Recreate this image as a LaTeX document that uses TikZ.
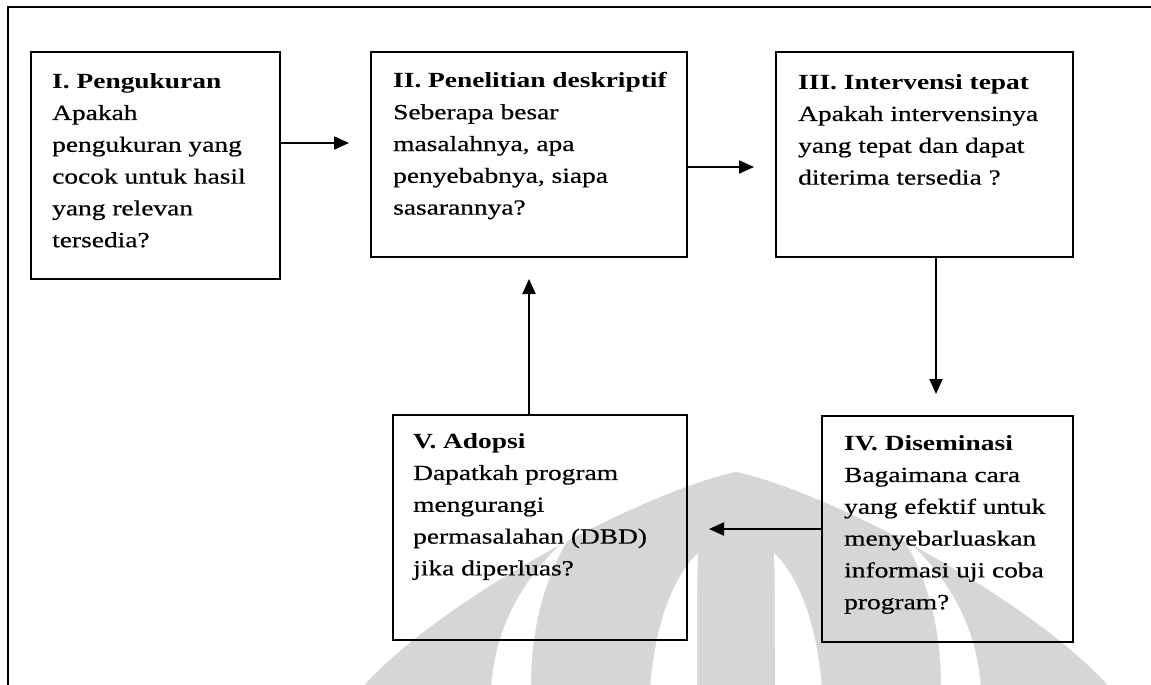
\documentclass[tikz,border=0pt]{standalone}
\usepackage{fontspec}
\setmainfont{Liberation Serif}[FakeStretch=1.27, UprightFeatures={FakeBold=0.6}]
\usetikzlibrary{arrows.meta}

% one half of the faint background emblem (mirrored for the other half)
\newcommand\emblemside{%
  \fill[white] (491,690) .. controls (495,620) and (530,570) .. (571,535)
               .. controls (545,575) and (530,630) .. (531,690) -- cycle;
  \fill[white] (650,690) .. controls (655,620) and (675,575) .. (698,553)
               .. controls (697,580) and (697,620) .. (697,690) -- cycle;
}

\begin{document}
\begin{tikzpicture}[x=1pt, y=-1pt,
  box/.style={draw, line width=2.4pt, outer sep=0pt, inner sep=0pt,
              anchor=north west, minimum width=#1},
  txt/.style={anchor=north west, inner sep=0pt, align=left,
              font=\fontsize{21.6}{31.8}\selectfont},
  arr/.style={line width=2pt, -{Triangle[length=15pt,width=13pt]},
              shorten >=22pt},
  emblem/.style={fill=black!16}]

\useasboundingbox (0,0) rectangle (1151,685);

% background emblem
\begin{scope}
  \clip (0,0) rectangle (1151,685);
  \fill[emblem] (352,700) .. controls (420,610) and (640,492) .. (736,472)
               .. controls (832,492) and (1052,610) .. (1120,700) -- cycle;
  \emblemside
  \begin{scope}[xshift=1472pt, xscale=-1]
    \emblemside
  \end{scope}
\end{scope}

% outer frame
\draw[line width=2pt] (1151,7) -- (8,7) -- (8,685);

% boxes
\node[box=249pt, minimum height=227pt] (b1) at (31,52) {};
\node[box=316pt, minimum height=205pt] (b2) at (371,52) {};
\node[box=297pt, minimum height=205pt] (b3) at (776,52) {};
\node[box=251pt, minimum height=226pt] (b4) at (822,416) {};
\node[box=294pt, minimum height=225pt] (b5) at (393,415) {};

% box texts
\node[txt] (t1) at (52,73) {\textbf{I. Pengukuran}\\Apakah\\pengukuran yang\\cocok untuk hasil\\yang relevan\\tersedia?};
\node[txt] (t2) at (393,72) {\textbf{II. Penelitian deskriptif}\\Seberapa besar\\masalahnya, apa\\penyebabnya, siapa\\sasarannya?};
\node[txt] (t3) at (798,74) {\textbf{III. Intervensi tepat}\\Apakah intervensinya\\yang tepat dan dapat\\diterima tersedia ?};
\node[txt] (t4) at (844,435) {\textbf{IV. Diseminasi}\\Bagaimana cara\\yang efektif untuk\\menyebarluaskan\\informasi uji coba\\program?};
\node[txt] (t5) at (413,433) {\textbf{V. Adopsi}\\Dapatkah program\\mengurangi\\permasalahan (DBD)\\jika diperluas?};

% connectors
\draw[arr] (b1.east |- 0,143) -- (b2.west |- 0,143);
\draw[arr] (b2.east |- 0,167) -- (b3.west |- 0,167);
\draw[arr] (b3.south -| 936,0) -- (b4.north -| 936,0);
\draw[arr] (b4.west |- 0,529) -- (b5.east |- 0,529);
\draw[arr] (b5.north -| 529,0) -- (b2.south -| 529,0);
\end{tikzpicture}
\end{document}
